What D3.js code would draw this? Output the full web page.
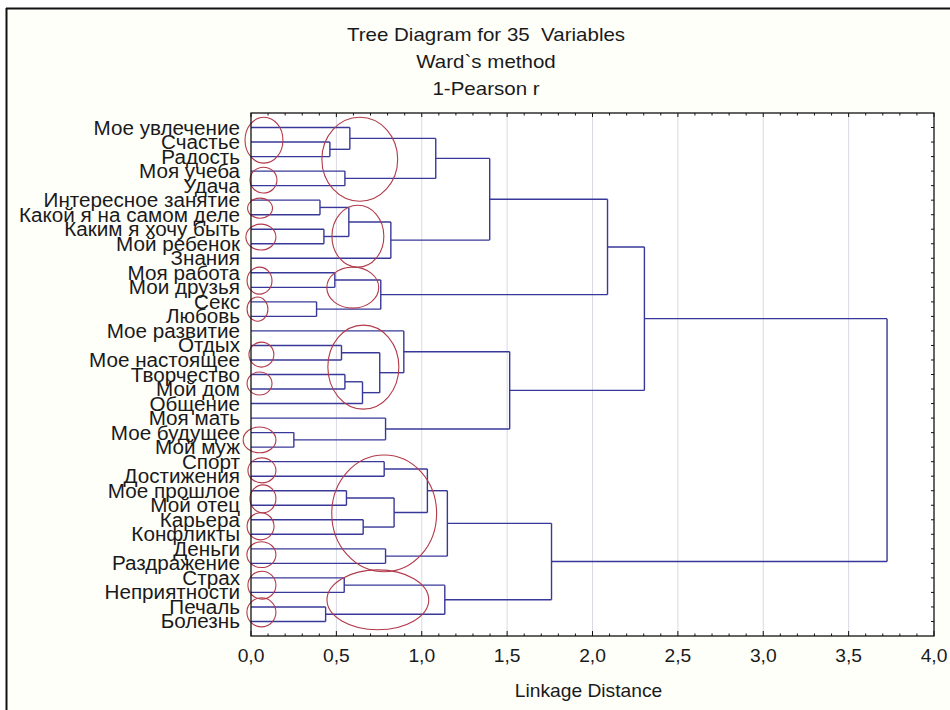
<!DOCTYPE html>
<html>
<head>
<meta charset="utf-8">
<script src="https://cdn.jsdelivr.net/npm/d3@7/dist/d3.min.js"></script>
<style>
  html, body { margin: 0; padding: 0; background: #ffffff; }
  svg { display: block; }
  text { font-family: "Liberation Sans", Arial, sans-serif; fill: #1a1a1a; white-space: pre; }
</style>
</head>
<body>
<svg id="chart" width="950" height="710"></svg>
<script>
// ---------- data ----------
const titleLines = ["Tree Diagram for 35  Variables", "Ward`s method", "1-Pearson r"];
const xAxisTitle = "Linkage Distance";
const xTickValues = [0, 0.5, 1.0, 1.5, 2.0, 2.5, 3.0, 3.5, 4.0];
const xTickLabels = ["0,0", "0,5", "1,0", "1,5", "2,0", "2,5", "3,0", "3,5", "4,0"];

const leaves = [
  "Мое увлечение", "Счастье", "Радость", "Моя учеба", "Удача",
  "Интересное занятие", "Какой я на самом деле", "Каким я хочу быть", "Мой ребенок", "Знания",
  "Моя работа", "Мои друзья", "Секс", "Любовь", "Мое развитие",
  "Отдых", "Мое настоящее", "Творчество", "Мой дом", "Общение",
  "Моя мать", "Мое будущее", "Мой муж", "Спорт", "Достижения",
  "Мое прошлое", "Мой отец", "Карьера", "Конфликты", "Деньги",
  "Раздражение", "Страх", "Неприятности", "Печаль", "Болезнь"
];

// merges: [child A, child B, linkage distance]; ids 0..34 are leaves, 35+ are merges in order
const merges = [
  [1, 2, 0.462],   // 35
  [0, 35, 0.579],  // 36
  [3, 4, 0.550],   // 37
  [36, 37, 1.082], // 38
  [5, 6, 0.404],   // 39
  [7, 8, 0.427],   // 40
  [39, 40, 0.573], // 41
  [41, 9, 0.819],  // 42
  [38, 42, 1.398], // 43
  [10, 11, 0.491], // 44
  [12, 13, 0.384], // 45
  [44, 45, 0.760], // 46
  [43, 46, 2.088], // 47
  [15, 16, 0.530], // 48
  [17, 18, 0.550], // 49
  [49, 19, 0.653], // 50
  [48, 50, 0.754], // 51
  [14, 51, 0.895], // 52
  [21, 22, 0.251], // 53
  [20, 53, 0.788], // 54
  [52, 54, 1.515], // 55
  [47, 55, 2.304], // 56
  [23, 24, 0.780], // 57
  [25, 26, 0.559], // 58
  [27, 28, 0.657], // 59
  [58, 59, 0.838], // 60
  [57, 60, 1.033], // 61
  [29, 30, 0.788], // 62
  [61, 62, 1.150], // 63
  [31, 32, 0.546], // 64
  [33, 34, 0.437], // 65
  [64, 65, 1.135], // 66
  [63, 66, 1.760], // 67
  [56, 67, 3.725]  // 68 (root)
];

// hand-drawn annotation ellipses: [centre distance, centre leaf index, radius distance, radius leaves]
const ellipses = [
  [0.076, 0.87, 0.111, 1.58],
  [0.073, 3.62, 0.079, 0.89],
  [0.053, 5.55, 0.073, 0.69],
  [0.058, 7.54, 0.088, 0.89],
  [0.050, 10.54, 0.073, 0.93],
  [0.038, 12.50, 0.061, 0.83],
  [0.061, 15.63, 0.073, 0.86],
  [0.050, 17.62, 0.073, 0.79],
  [0.050, 21.50, 0.096, 0.89],
  [0.064, 23.60, 0.082, 0.86],
  [0.070, 25.56, 0.076, 0.96],
  [0.056, 27.45, 0.079, 0.93],
  [0.061, 29.40, 0.085, 0.89],
  [0.064, 31.50, 0.082, 0.96],
  [0.061, 33.37, 0.085, 1.00],
  [0.637, 2.18, 0.222, 2.89],
  [0.626, 7.48, 0.152, 2.13],
  [0.596, 11.02, 0.152, 1.41],
  [0.658, 16.49, 0.208, 2.89],
  [0.780, 26.56, 0.307, 4.02],
  [0.743, 32.51, 0.298, 2.06]
];

// ---------- layout ----------
const svg = d3.select("#chart");
const W = 950, H = 710;
const plot = { left: 251, right: 934, top: 113, bottom: 636 };
const lineColor = "#38389a";
const ellipseColor = "#b23a4a";

// background + outer frame
svg.append("rect").attr("x", 0).attr("y", 0).attr("width", W).attr("height", H).attr("fill", "#ffffff");
svg.append("rect").attr("x", 6).attr("y", 8).attr("width", W - 6).attr("height", H - 8).attr("fill", "#fffffa");
svg.append("line").attr("x1", 6).attr("x2", W).attr("y1", 8.5).attr("y2", 8.5).attr("stroke", "#111").attr("stroke-width", 2);
svg.append("line").attr("x1", 6.5).attr("x2", 6.5).attr("y1", 8).attr("y2", H).attr("stroke", "#111").attr("stroke-width", 2);

const x = d3.scaleLinear().domain([0, 4]).range([plot.left, plot.right]);
const y = d3.scaleLinear().domain([-1, leaves.length]).range([plot.top, plot.bottom]);

// plot area
svg.append("rect")
  .attr("x", plot.left).attr("y", plot.top)
  .attr("width", plot.right - plot.left).attr("height", plot.bottom - plot.top)
  .attr("fill", "#ffffff");

// grid lines
svg.append("g").selectAll("line")
  .data(xTickValues.filter(v => v > 0 && v < 4))
  .join("line")
  .attr("x1", d => x(d)).attr("x2", d => x(d))
  .attr("y1", plot.top).attr("y2", plot.bottom)
  .attr("stroke", "#d9d9e3").attr("stroke-width", 1);

// ---------- tree ----------
const nodes = leaves.map((name, i) => ({ id: i, name, h: 0, pos: i }));
merges.forEach(([a, b, h], k) => {
  const A = nodes[a], B = nodes[b];
  nodes.push({ id: leaves.length + k, h, a: A, b: B, pos: (A.pos + B.pos) / 2 });
});

const tree = svg.append("g").attr("fill", "none").attr("stroke", lineColor).attr("stroke-width", 1.4);
const segs = [];
nodes.slice(leaves.length).forEach(n => {
  segs.push([n.h, n.a.pos, n.h, n.b.pos]);
  segs.push([n.a.h, n.a.pos, n.h, n.a.pos]);
  segs.push([n.b.h, n.b.pos, n.h, n.b.pos]);
});
tree.selectAll("line").data(segs).join("line")
  .attr("x1", d => x(d[0])).attr("y1", d => y(d[1]))
  .attr("x2", d => x(d[2])).attr("y2", d => y(d[3]));

// annotation ellipses
svg.append("g").selectAll("ellipse").data(ellipses).join("ellipse")
  .attr("cx", d => x(d[0])).attr("cy", d => y(d[1]))
  .attr("rx", d => x(d[2]) - x(0)).attr("ry", d => y(d[3]) - y(0))
  .attr("fill", "none").attr("stroke", ellipseColor).attr("stroke-width", 1.1);

// frame
svg.append("rect")
  .attr("x", plot.left).attr("y", plot.top)
  .attr("width", plot.right - plot.left).attr("height", plot.bottom - plot.top)
  .attr("fill", "none").attr("stroke", "#111").attr("stroke-width", 1.3);

// axis ticks (inward)
const minor = d3.range(0, 41).map(i => i / 10);
const isMajor = d => Math.abs(d * 2 - Math.round(d * 2)) < 1e-6;
const axisG = svg.append("g").attr("stroke", "#111").attr("stroke-width", 1);
axisG.selectAll(".bt").data(minor).join("line").attr("class", "bt")
  .attr("x1", d => x(d)).attr("x2", d => x(d))
  .attr("y1", plot.bottom).attr("y2", d => plot.bottom - (isMajor(d) ? 5 : 2.5));
axisG.selectAll(".tt").data(minor).join("line").attr("class", "tt")
  .attr("x1", d => x(d)).attr("x2", d => x(d))
  .attr("y1", plot.top).attr("y2", d => plot.top + (isMajor(d) ? 4 : 2.5));
axisG.selectAll(".rt").data(leaves.map((_, i) => i)).join("line").attr("class", "rt")
  .attr("x1", plot.right).attr("x2", plot.right - 3)
  .attr("y1", d => y(d)).attr("y2", d => y(d));

// tick labels (slightly wide face, as in the reference)
svg.append("g").selectAll("text").data(xTickValues).join("text")
  .attr("transform", d => `translate(${x(d)},662) scale(1.1,1)`)
  .attr("text-anchor", "middle")
  .style("font-size", "17.5px")
  .text((d, i) => xTickLabels[i]);

svg.append("text")
  .attr("transform", `translate(${(plot.left + plot.right) / 2 - 4},697) scale(1.1,1)`)
  .attr("text-anchor", "middle")
  .style("font-size", "17.5px")
  .text(xAxisTitle);

// leaf labels
svg.append("g").attr("transform", `translate(${plot.left - 11},0) scale(1.06,1)`)
  .selectAll("text").data(leaves).join("text")
  .attr("x", 0).attr("y", (d, i) => y(i))
  .attr("dy", "0.36em")
  .attr("text-anchor", "end")
  .style("font-size", "19.5px")
  .text(d => d);

// titles
svg.append("g").selectAll("text").data(titleLines).join("text")
  .attr("transform", (d, i) => `translate(486,${41 + i * 27}) scale(1.14,1)`)
  .attr("text-anchor", "middle")
  .style("font-size", "18px")
  .text(d => d);
</script>
</body>
</html>
